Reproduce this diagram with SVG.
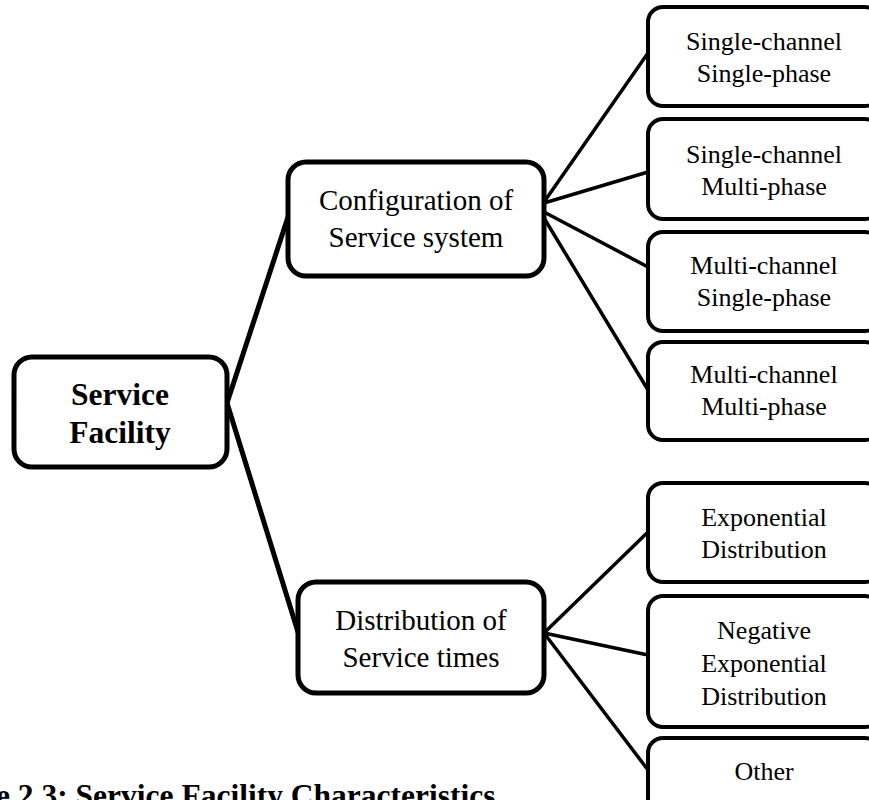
<svg xmlns="http://www.w3.org/2000/svg" width="869" height="800" viewBox="0 0 869 800">
<style>
.bg{fill:#ffffff}
.main{fill:#ffffff;stroke:#000000;stroke-width:5}
.leaf{fill:#ffffff;stroke:#000000;stroke-width:4}
.c1{stroke:#000000;stroke-width:5;fill:none;stroke-linecap:round}
.c2{stroke:#000000;stroke-width:3.5;fill:none;stroke-linecap:round}
text{font-family:"Liberation Serif","Times New Roman",serif;fill:#000000;text-anchor:middle}
.tb{font-size:31.5px;font-weight:bold}
.tm{font-size:29px}
.tl{font-size:26px}
.cap{font-size:31.5px;font-weight:bold;text-anchor:start}
</style>
<rect class="bg" x="0" y="0" width="869" height="800"/>
<g id="connectors">
<line class="c1" x1="227" y1="403" x2="288" y2="217"/>
<line class="c1" x1="227" y1="403" x2="298" y2="632"/>
<line class="c2" x1="544" y1="202" x2="648" y2="53"/>
<line class="c2" x1="544" y1="203" x2="648" y2="172"/>
<line class="c2" x1="544" y1="212" x2="648" y2="267"/>
<line class="c2" x1="544" y1="218" x2="648" y2="390"/>
<line class="c2" x1="544" y1="633" x2="648" y2="532"/>
<line class="c2" x1="544" y1="633" x2="648" y2="655"/>
<line class="c2" x1="544" y1="633" x2="648" y2="770"/>
</g>
<g id="service-facility">
<rect class="main" x="14" y="357" width="213" height="110" rx="18"/>
<text class="tb" x="120" y="405">Service</text>
<text class="tb" x="120" y="443">Facility</text>
</g>
<g id="configuration">
<rect class="main" x="288" y="162" width="256" height="114" rx="18"/>
<text class="tm" x="416" y="210">Configuration of</text>
<text class="tm" x="416" y="247">Service system</text>
</g>
<g id="distribution">
<rect class="main" x="298" y="582" width="246" height="111" rx="18"/>
<text class="tm" x="421" y="630">Distribution of</text>
<text class="tm" x="421" y="667">Service times</text>
</g>
<g id="sc-sp">
<rect class="leaf" x="648" y="7" width="232" height="99" rx="15"/>
<text class="tl" x="764" y="50">Single-channel</text>
<text class="tl" x="764" y="82">Single-phase</text>
</g>
<g id="sc-mp">
<rect class="leaf" x="648" y="119" width="232" height="100" rx="15"/>
<text class="tl" x="764" y="163">Single-channel</text>
<text class="tl" x="764" y="195">Multi-phase</text>
</g>
<g id="mc-sp">
<rect class="leaf" x="648" y="232" width="232" height="99" rx="15"/>
<text class="tl" x="764" y="274">Multi-channel</text>
<text class="tl" x="764" y="306">Single-phase</text>
</g>
<g id="mc-mp">
<rect class="leaf" x="648" y="342" width="232" height="98" rx="15"/>
<text class="tl" x="764" y="383">Multi-channel</text>
<text class="tl" x="764" y="415">Multi-phase</text>
</g>
<g id="exponential">
<rect class="leaf" x="648" y="483" width="232" height="99" rx="15"/>
<text class="tl" x="764" y="526">Exponential</text>
<text class="tl" x="764" y="558">Distribution</text>
</g>
<g id="negative-exponential">
<rect class="leaf" x="648" y="596" width="232" height="131" rx="15"/>
<text class="tl" x="764" y="639">Negative</text>
<text class="tl" x="764" y="672">Exponential</text>
<text class="tl" x="764" y="705">Distribution</text>
</g>
<g id="other">
<rect class="leaf" x="648" y="738" width="232" height="90" rx="15"/>
<text class="tl" x="764" y="780">Other</text>
</g>
<text class="cap" x="-4" y="806">e 2.3: Service Facility Characteristics</text>
</svg>
